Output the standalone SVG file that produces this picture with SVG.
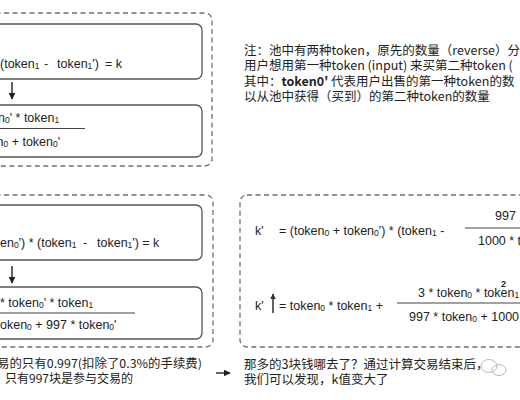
<svg xmlns="http://www.w3.org/2000/svg" width="520" height="400" viewBox="0 0 520 400">
<defs>
<style>
.dash{fill:none;stroke:#707070;stroke-width:1.3;stroke-dasharray:5 3.5}
.box{fill:#fff;stroke:#555;stroke-width:1.3}
.f{font-family:"Liberation Sans",Arial,sans-serif;font-size:12.5px;fill:#222}
.s{font-size:8.5px}
.sup{font-size:9px;font-weight:bold}
.cn{font-family:"Noto Sans CJK SC","Noto Sans",sans-serif;font-size:12.5px;fill:#222}
.cn12{font-size:12px}
.frac{stroke:#444;stroke-width:1.2}
.conn{stroke:#222;stroke-width:1.4;fill:none}
</style>
<marker id="ah" viewBox="0 0 10 10" refX="9" refY="5" markerWidth="7" markerHeight="7" markerUnits="userSpaceOnUse" orient="auto">
<path d="M0,0 L10,5 L0,10 z" fill="#222"/>
</marker>
<marker id="ahs" viewBox="0 0 10 10" refX="9" refY="5" markerWidth="6" markerHeight="6" markerUnits="userSpaceOnUse" orient="auto">
<path d="M0,0 L10,5 L0,10 z" fill="#333"/>
</marker>
</defs>
<rect width="520" height="400" fill="#fff"/>

<g id="group-top">
<rect class="dash" x="-20" y="13" width="232" height="153" rx="7"/>
</g>
<g id="box-eq1">
<rect class="box" x="-20" y="24" width="222" height="55" rx="6"/>
<text class="f" y="68" xml:space="preserve"><tspan x="0">(token</tspan><tspan class="s" dy="1">1</tspan><tspan dy="-1" x="44">-</tspan><tspan x="57">token</tspan><tspan class="s" dy="1">1</tspan><tspan dy="-1">')</tspan><tspan x="105">= k</tspan></text>
</g>
<g id="box-eq2">
<rect class="box" x="-20" y="105" width="222" height="52" rx="6"/>
<text class="f" x="-2" y="122" xml:space="preserve">n<tspan class="s" dy="1">0</tspan><tspan dy="-1">' * token</tspan><tspan class="s" dy="1">1</tspan></text>
<line class="frac" x1="-5" y1="128.5" x2="85" y2="128.5"/>
<text class="f" x="-3.5" y="146" xml:space="preserve">n<tspan class="s" dy="1">0</tspan><tspan dy="-1"> + token</tspan><tspan class="s" dy="1">0</tspan><tspan dy="-1">'</tspan></text>
</g>

<g id="group-bottom-left">
<rect class="dash" x="-20" y="195" width="233" height="152" rx="7"/>
</g>
<g id="box-eq3">
<rect class="box" x="-20" y="205" width="222" height="55" rx="6"/>
<text class="f" y="247" xml:space="preserve"><tspan x="0">en</tspan><tspan class="s" dy="1">0</tspan><tspan dy="-1">') * (token</tspan><tspan class="s" dy="1">1</tspan><tspan dy="-1" x="83">-</tspan><tspan x="97">token</tspan><tspan class="s" dy="1">1</tspan><tspan dy="-1">') = k</tspan></text>
</g>
<g id="box-eq4">
<rect class="box" x="-20" y="287" width="222" height="52" rx="6"/>
<text class="f" x="0" y="307" xml:space="preserve">* token<tspan class="s" dy="1">0</tspan><tspan dy="-1">' * token</tspan><tspan class="s" dy="1">1</tspan></text>
<line class="frac" x1="-5" y1="313" x2="135" y2="313"/>
<text class="f" x="0" y="329" xml:space="preserve">oken<tspan class="s" dy="1">0</tspan><tspan dy="-1"> + 997 * token</tspan><tspan class="s" dy="1">0</tspan><tspan dy="-1">'</tspan></text>
</g>
<g id="note-fee">
<text class="cn cn12" x="-3" y="368" textLength="205" lengthAdjust="spacingAndGlyphs">易的只有0.997(扣除了0.3%的手续费)</text>
<text class="cn cn12" x="5" y="383">只有997块是参与交易的</text>
</g>

<g id="group-right">
<rect class="dash" x="240" y="195" width="300" height="152" rx="7"/>
<text class="f" x="255" y="235">k'</text>
<text class="f" x="279" y="235" xml:space="preserve">= (token<tspan class="s" dy="1">0</tspan><tspan dy="-1"> + token</tspan><tspan class="s" dy="1">0</tspan><tspan dy="-1">') * (token</tspan><tspan class="s" dy="1">1</tspan><tspan dy="-1"> -</tspan></text>
<text class="f" x="495" y="220">997</text>
<line class="frac" x1="465" y1="228" x2="525" y2="228"/>
<text class="f" x="478" y="245">1000 * t</text>
<text class="f" x="255" y="310">k'</text>
<text class="f" x="279" y="310" xml:space="preserve">= token<tspan class="s" dy="1">0</tspan><tspan dy="-1"> * token</tspan><tspan class="s" dy="1">1</tspan><tspan dy="-1"> +</tspan></text>
<text class="f" x="418" y="297" xml:space="preserve">3 * token<tspan class="s" dy="1">0</tspan><tspan dy="-1"> * token</tspan><tspan class="s" dy="1">1</tspan></text>
<text class="f sup" x="501" y="287">2</text>
<line class="frac" x1="397" y1="303" x2="525" y2="303"/>
<text class="f" x="409" y="321" xml:space="preserve">997 * token<tspan class="s" dy="1">0</tspan><tspan dy="-1"> + 1000</tspan></text>
</g>

<g id="note-top">
<text class="cn" x="244" y="54.5">注：池中有两种token，原先的数量（reverse）分</text>
<text class="cn" x="244" y="70">用户想用第一种token (input) 来买第二种token (</text>
<text class="cn" x="244" y="85.5">其中：<tspan font-weight="bold">token0'</tspan> 代表用户出售的第一种token的数</text>
<text class="cn" x="244" y="101">以从池中获得（买到）的第二种token的数量</text>
</g>

<g id="note-k">
<text class="cn" x="244" y="369">那多的3块钱哪去了？通过计算交易结束后，</text>
<text class="cn" x="244" y="384">我们可以发现，k值变大了</text>
<g id="watermark" fill="none" stroke="#bbb" stroke-width="1">
<ellipse cx="489" cy="366" rx="8" ry="6.5"/>
<ellipse cx="499" cy="370" rx="7" ry="5.5"/>
</g>
</g>

<g id="connectors">
<line class="conn" x1="12" y1="82" x2="12" y2="99" marker-end="url(#ah)"/>
<line class="conn" x1="12" y1="266" x2="12" y2="283" marker-end="url(#ah)"/>
<line class="conn" x1="216" y1="373" x2="230" y2="373" marker-end="url(#ah)"/>
<line class="conn" x1="273" y1="313" x2="273" y2="294" stroke-width="1" marker-end="url(#ahs)"/>
</g>
</svg>
